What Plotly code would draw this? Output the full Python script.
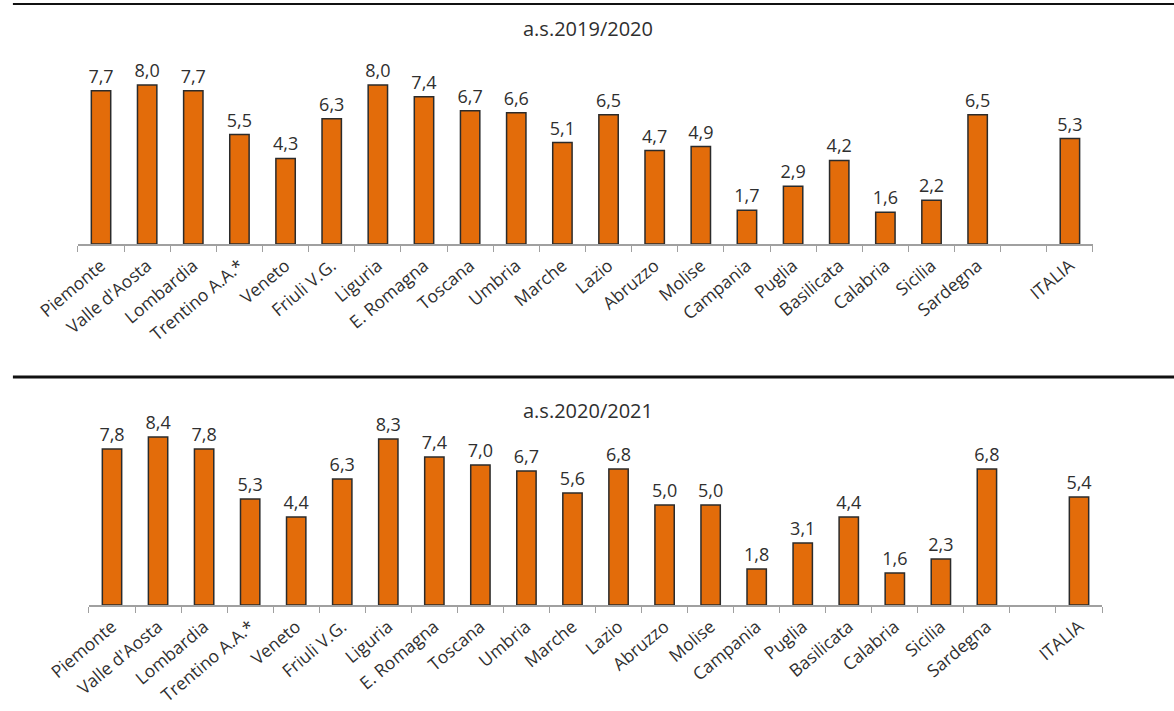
import plotly.graph_objects as go

regions = ["Piemonte", "Valle d'Aosta", "Lombardia", "Trentino A.A.*", "Veneto",
           "Friuli V.G.", "Liguria", "E. Romagna", "Toscana", "Umbria", "Marche",
           "Lazio", "Abruzzo", "Molise", "Campania", "Puglia", "Basilicata",
           "Calabria", "Sicilia", "Sardegna"]
gap_label = " "
total_label = "ITALIA"

values_2019 = [7.7, 8.0, 7.7, 5.5, 4.3, 6.3, 8.0, 7.4, 6.7, 6.6, 5.1, 6.5, 4.7,
               4.9, 1.7, 2.9, 4.2, 1.6, 2.2, 6.5]
italia_2019 = 5.3

values_2020 = [7.8, 8.4, 7.8, 5.3, 4.4, 6.3, 8.3, 7.4, 7.0, 6.7, 5.6, 6.8, 5.0,
               5.0, 1.8, 3.1, 4.4, 1.6, 2.3, 6.8]
italia_2020 = 5.4

titles = ["a.s.2019/2020", "a.s.2020/2021"]

categories = regions + [gap_label, total_label]

BAR = "#E36C0A"
EDGE = "#2b2b2b"
TEXT = "#2f2f2f"
FONT = "Open Sans"

fig = go.Figure()

for i, (vals, tot) in enumerate([(values_2019, italia_2019), (values_2020, italia_2020)]):
    suffix = "" if i == 0 else str(i + 1)
    fig.add_trace(go.Bar(
        x=categories,
        y=vals + [None, tot],
        xaxis="x" + suffix, yaxis="y" + suffix,
        marker=dict(color=BAR, line=dict(color=EDGE, width=1.5)),
        width=0.42,
        texttemplate="%{y:.1f}",
        textposition="outside",
        constraintext="none",
        textfont=dict(family=FONT, size=18, color=TEXT),
        cliponaxis=False,
        showlegend=False,
        hoverinfo="skip",
    ))

axis_common = dict(
    type="category",
    categoryorder="array",
    categoryarray=categories,
    tickangle=-40,
    tickson="boundaries",
    ticks="outside",
    ticklen=6,
    tickcolor="#a0a0a0",
    showline=True,
    linecolor="#a0a0a0",
    linewidth=1.5,
    showgrid=False,
    automargin=False,
    ticklabelstandoff=3,
    tickfont=dict(family=FONT, size=17.5, color=TEXT),
    fixedrange=True,
)
yaxis_common = dict(range=[0, 9], visible=False, showgrid=False,
                    automargin=False, fixedrange=True)

fig.update_layout(
    width=1174, height=711,
    margin=dict(l=0, r=0, t=0, b=0),
    paper_bgcolor="white", plot_bgcolor="white",
    separators=",.",
    xaxis=dict(domain=[0.0664, 0.9310], anchor="y", **axis_common),
    yaxis=dict(domain=[0.6568, 0.9086], anchor="x", **yaxis_common),
    xaxis2=dict(domain=[0.0758, 0.9387], anchor="y2", **axis_common),
    yaxis2=dict(domain=[0.1491, 0.4023], anchor="x2", **yaxis_common),
    shapes=[
        dict(type="line", xref="paper", yref="paper", x0=0.011, x1=1.0,
             y0=1 - 4 / 711, y1=1 - 4 / 711, line=dict(color="#111111", width=2)),
        dict(type="line", xref="paper", yref="paper", x0=0.011, x1=1.0,
             y0=1 - 377 / 711, y1=1 - 377 / 711, line=dict(color="#111111", width=3)),
    ],
    annotations=[
        dict(text=titles[0], xref="paper", yref="paper", x=0.501, y=1 - 29 / 711,
             xanchor="center", yanchor="middle", showarrow=False,
             font=dict(family=FONT, size=20, color=TEXT)),
        dict(text=titles[1], xref="paper", yref="paper", x=0.501, y=1 - 410 / 711,
             xanchor="center", yanchor="middle", showarrow=False,
             font=dict(family=FONT, size=20, color=TEXT)),
    ],
)

fig.write_html("out.html")
